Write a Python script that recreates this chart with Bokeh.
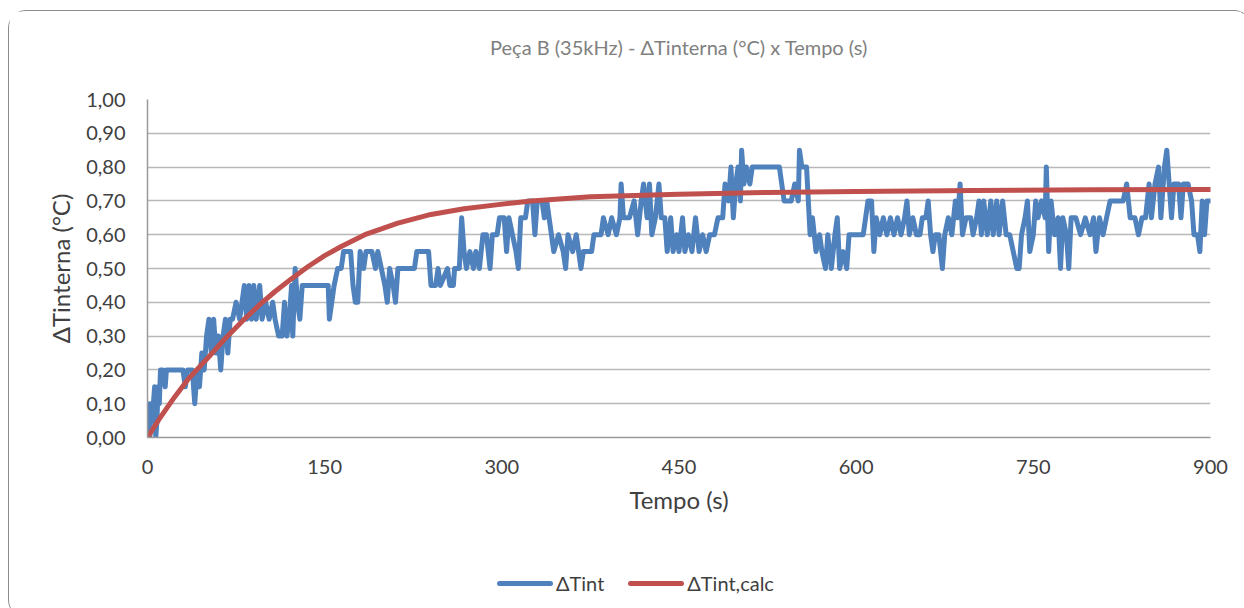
from bokeh.plotting import figure
from bokeh.models import Range1d, FixedTicker, CustomJSTickFormatter, LinearAxis, Title, Div
from bokeh.layouts import column
from bokeh.embed import file_html
from bokeh.resources import INLINE

title_text = "Peça B (35kHz) - ΔTinterna (°C) x Tempo (s)"
x_label = "Tempo (s)"
y_label = "ΔTinterna (°C)"
series_names = ["ΔTint", "ΔTint,calc"]
x_ticks = [0, 150, 300, 450, 600, 750, 900]
y_ticks = [0.0, 0.1, 0.2, 0.3, 0.4, 0.5, 0.6, 0.7, 0.8, 0.9, 1.0]

t_meas = [0, 1, 2, 3, 4, 5, 6, 7, 8, 9, 10, 11, 13, 15, 16, 20, 30, 32, 34, 38, 40, 42, 44, 46, 48,
          50, 52, 54, 56, 58, 60, 62, 64, 66, 68, 70, 72, 75, 78, 80, 82, 84, 86, 88, 90, 92, 95, 97,
          100, 103, 106, 108, 111, 114, 116, 118, 120, 122, 123, 125, 127, 129, 131, 135, 150, 153,
          154, 156, 158, 161, 164, 166, 172, 174, 176, 178, 180, 183, 185, 190, 193, 195, 198, 201,
          203, 205, 208, 210, 212, 216, 226, 228, 238, 240, 244, 246, 248, 254, 256, 259, 260, 264,
          266, 268, 270, 273, 276, 278, 281, 284, 287, 290, 292, 296, 298, 302, 304, 306, 309, 312,
          314, 316, 320, 322, 326, 328, 330, 334, 336, 338, 340, 342, 344, 348, 352, 354, 356, 360,
          363, 365, 367, 369, 376, 378, 384, 386, 390, 393, 397, 400, 401, 403, 408, 412, 415, 418,
          420, 423, 425, 427, 430, 433, 435, 438, 440, 443, 445, 448, 450, 453, 455, 458, 461, 464,
          467, 470, 473, 476, 480, 483, 487, 489, 492, 494, 496, 498, 500, 502, 503, 505, 507, 510,
          512, 535, 537, 539, 545, 548, 551, 552, 554, 556, 558, 561, 563, 566, 569, 571, 574, 576,
          579, 582, 584, 586, 589, 592, 594, 598, 606, 608, 610, 613, 615, 617, 620, 623, 626, 629,
          632, 635, 638, 641, 643, 645, 648, 651, 654, 656, 659, 661, 663, 665, 667, 670, 673, 675,
          678, 681, 684, 686, 688, 690, 693, 697, 699, 702, 704, 706, 708, 711, 714, 716, 719, 721,
          724, 727, 730, 733, 736, 738, 740, 743, 745, 747, 750, 752, 754, 757, 760, 761, 763, 765,
          768, 771, 773, 775, 778, 780, 782, 786, 790, 794, 798, 801, 803, 806, 809, 812, 815, 826,
          829, 832, 836, 839, 842, 845, 848, 850, 853, 856, 858, 861, 863, 865, 867, 869, 873, 875,
          877, 881, 884, 886, 889, 891, 893, 895, 897, 900]
v_meas = [0.05, 0.10, 0.00, 0.10, 0.05, 0.10, 0.15, 0.00, 0.05, 0.15, 0.10, 0.20, 0.20, 0.15, 0.20,
          0.20, 0.20, 0.15, 0.20, 0.20, 0.10, 0.20, 0.15, 0.25, 0.20,
          0.30, 0.35, 0.25, 0.35, 0.25, 0.30, 0.20, 0.30, 0.35, 0.25, 0.35, 0.35, 0.40, 0.35, 0.40,
          0.45, 0.35, 0.45, 0.35, 0.45, 0.35, 0.45, 0.35,
          0.40, 0.35, 0.40, 0.35, 0.30, 0.30, 0.40, 0.30, 0.35, 0.45, 0.30, 0.50, 0.40, 0.35, 0.45,
          0.45, 0.45, 0.45,
          0.35, 0.40, 0.45, 0.50, 0.50, 0.55, 0.55, 0.45, 0.40, 0.40, 0.55, 0.50, 0.55, 0.55, 0.50,
          0.55, 0.50, 0.45,
          0.40, 0.50, 0.45, 0.40, 0.50, 0.50, 0.50, 0.55, 0.55, 0.45, 0.45, 0.50, 0.45, 0.50, 0.45,
          0.45, 0.50, 0.50,
          0.65, 0.55, 0.50, 0.55, 0.50, 0.55, 0.50, 0.60, 0.60, 0.50, 0.60, 0.60, 0.65, 0.65, 0.55,
          0.65, 0.60, 0.55,
          0.50, 0.65, 0.65, 0.70, 0.70, 0.60, 0.70, 0.70, 0.65, 0.70, 0.65, 0.60, 0.55, 0.60, 0.55,
          0.50, 0.60, 0.55,
          0.60, 0.55, 0.50, 0.55, 0.55, 0.60, 0.60, 0.65, 0.60, 0.65, 0.60, 0.65, 0.75, 0.65, 0.65,
          0.70, 0.60, 0.70,
          0.75, 0.65, 0.75, 0.60, 0.65, 0.75, 0.65, 0.65, 0.55, 0.65, 0.55, 0.60, 0.55, 0.65, 0.55,
          0.60, 0.55, 0.65,
          0.55, 0.60, 0.55, 0.60, 0.60, 0.65, 0.65, 0.75, 0.70, 0.80, 0.65, 0.75, 0.80, 0.70, 0.85,
          0.75, 0.80, 0.75,
          0.80, 0.80, 0.75, 0.70, 0.70, 0.75, 0.70, 0.85, 0.80, 0.80, 0.80, 0.60, 0.65, 0.55, 0.60,
          0.55, 0.50, 0.60,
          0.50, 0.60, 0.65, 0.50, 0.55, 0.50, 0.60, 0.60, 0.60, 0.65, 0.70, 0.70, 0.55, 0.65, 0.60,
          0.65, 0.60, 0.65,
          0.60, 0.65, 0.60, 0.65, 0.70, 0.60, 0.65, 0.60, 0.60, 0.65, 0.65, 0.70, 0.60, 0.55, 0.60,
          0.60, 0.50, 0.60,
          0.65, 0.60, 0.70, 0.65, 0.75, 0.60, 0.65, 0.65, 0.60, 0.65, 0.70, 0.60, 0.70, 0.60, 0.70,
          0.60, 0.70, 0.60,
          0.70, 0.60, 0.60, 0.55, 0.50, 0.50, 0.60, 0.65, 0.70, 0.55, 0.60, 0.70, 0.65, 0.70, 0.65,
          0.80, 0.55, 0.70,
          0.60, 0.65, 0.50, 0.65, 0.60, 0.50, 0.65, 0.65, 0.60, 0.65, 0.60, 0.65, 0.55, 0.65, 0.60,
          0.65, 0.70, 0.70,
          0.75, 0.65, 0.65, 0.60, 0.65, 0.65, 0.75, 0.65, 0.75, 0.80, 0.65, 0.80, 0.85, 0.75, 0.65,
          0.75, 0.75, 0.65,
          0.75, 0.75, 0.70, 0.60, 0.60, 0.55, 0.70, 0.60, 0.70, 0.70]

# calculated ΔTint
t_calc = [0, 10, 23, 35, 51, 65, 80, 94, 108, 122, 136, 150, 164, 184, 212, 240, 268, 297, 325,
          375, 450, 525, 600, 700, 800, 900]
v_calc = [0.0, 0.055, 0.12, 0.175, 0.235, 0.29, 0.343, 0.39, 0.432, 0.47, 0.506, 0.538, 0.565,
          0.60, 0.634, 0.66, 0.677, 0.689, 0.70, 0.712, 0.72, 0.725, 0.728, 0.731, 0.733, 0.734]

BLUE = "#4f81bd"
RED = "#c0504d"
COLORS = [BLUE, RED]
TXT = "#404040"
FONT = "Lato"

p = figure(frame_width=1063, frame_height=338, output_backend="svg", toolbar_location=None,
           x_range=Range1d(0, 900), y_range=Range1d(0, 1.0), title=None,
           min_border_left=138, min_border_right=31, min_border_top=88, min_border_bottom=100)
p.outline_line_color = None
p.background_fill_color = "white"
p.border_fill_color = "white"

xa = p.below[0]
ya = p.left[0]

xa.ticker = FixedTicker(ticks=x_ticks)
ya.ticker = FixedTicker(ticks=y_ticks)
ya.formatter = CustomJSTickFormatter(code="return tick.toFixed(2).replace('.', ',');")
for ax in (xa, ya):
    ax.major_tick_line_color = None
    ax.minor_tick_line_color = None
    ax.major_tick_out = 0
    ax.minor_tick_out = 0
    ax.major_label_text_font = FONT
    ax.major_label_text_font_size = "20px"
    ax.major_label_text_color = TXT
    ax.axis_label_text_font = FONT
    ax.axis_label_text_font_size = "24px"
    ax.axis_label_text_font_style = "normal"
    ax.axis_label_text_color = TXT
    ax.axis_line_color = "#9a9a9a"
    ax.axis_line_width = 1.5
xa.axis_label = x_label
ya.axis_label = y_label
xa.major_label_standoff = 22
ya.major_label_standoff = 22
xa.axis_label_standoff = 8
ya.axis_label_standoff = 8

p.xgrid.grid_line_color = None
p.ygrid.grid_line_color = "#b8b8b8"
p.ygrid.grid_line_width = 1.5

# invisible spacer (an empty axis whose blank label takes room) between frame and title
gap = LinearAxis(ticker=FixedTicker(ticks=[]), axis_line_color=None,
                 major_tick_line_color=None, minor_tick_line_color=None,
                 major_tick_out=0, minor_tick_out=0, major_label_standoff=0,
                 axis_label="\u00a0", axis_label_text_font_size="30px",
                 axis_label_standoff=0)
p.add_layout(gap, "above")
p.add_layout(Title(text=title_text, align="center", text_font=FONT, text_font_size="20px",
                   text_font_style="normal", text_color="#808080", standoff=10), "above")

p.line(t_meas, v_meas, line_color=BLUE, line_width=5, line_join="round", line_cap="round")
p.line(t_calc, v_calc, line_color=RED, line_width=5, line_join="round", line_cap="round")

# legend row below the chart
items_html = ""
for i, (name, col) in enumerate(zip(series_names, COLORS)):
    gap_right = "24px" if i < len(series_names) - 1 else "0"
    items_html += (
        f'<span style="display:inline-block;width:56px;height:5px;border-radius:3px;'
        f'background:{col};"></span>'
        f'<span style="margin-left:3px;margin-right:{gap_right};">{name}</span>'
    )
legend_html = (
    f'<div style="position:relative;width:1232px;height:70px;font-family:{FONT};'
    f'font-size:20px;color:{TXT};">'
    f'<div style="position:absolute;left:483px;top:29px;display:flex;align-items:center;'
    f'white-space:nowrap;line-height:24px;">{items_html}</div></div>'
)
legend_div = Div(text=legend_html, width=1232, height=70)

layout = column(p, legend_div, spacing=0)
layout.margin = (10, 0, 0, 8)
layout.styles = {"border": "1.5px solid #8c8c8c", "border-radius": "18px",
                 "background": "white"}

open("out.html", "w").write(file_html(layout, INLINE))
